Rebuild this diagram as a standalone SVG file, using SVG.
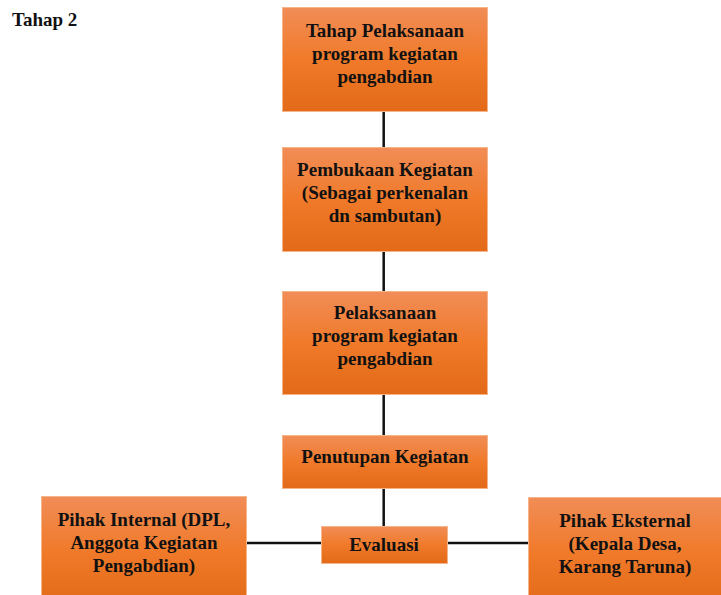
<svg xmlns="http://www.w3.org/2000/svg" width="721" height="595" viewBox="0 0 721 595">
<defs>
<linearGradient id="og" x1="0" y1="0" x2="0" y2="1">
<stop offset="0" stop-color="#F18D57"/>
<stop offset="0.5" stop-color="#F07A2A"/>
<stop offset="1" stop-color="#E26A18"/>
</linearGradient>
</defs>
<style>
.box{fill:url(#og);stroke:#F5B48A;stroke-width:1}
.c{stroke:#111;stroke-width:2.5;fill:none}
</style>
<rect width="721" height="595" fill="#fff"/>
<text x="12" y="26" font-family="Liberation Serif" font-weight="bold" font-size="19" fill="#111">Tahap 2</text>
<g id="connectors">
<line class="c" x1="383.7" y1="111" x2="383.7" y2="147"/>
<line class="c" x1="383.7" y1="252" x2="383.7" y2="291"/>
<line class="c" x1="383.7" y1="395" x2="383.7" y2="435"/>
<line class="c" x1="383.7" y1="488" x2="383.7" y2="526"/>
<line class="c" x1="246" y1="543" x2="321" y2="543"/>
<line class="c" x1="447" y1="543" x2="528" y2="543"/>
</g>
<g font-family="Liberation Serif" font-weight="bold" font-size="19" fill="#111" text-anchor="middle">
<g id="n1">
<rect class="box" x="282.5" y="7.5" width="205" height="104"/>
<text x="385" y="37">Tahap Pelaksanaan</text>
<text x="385" y="60">program kegiatan</text>
<text x="385" y="83">pengabdian</text>
</g>
<g id="n2">
<rect class="box" x="282.5" y="147.5" width="205" height="104"/>
<text x="385" y="176">Pembukaan Kegiatan</text>
<text x="385" y="199">(Sebagai perkenalan</text>
<text x="385" y="222">dn sambutan)</text>
</g>
<g id="n3">
<rect class="box" x="282.5" y="291.5" width="205" height="103"/>
<text x="385" y="319">Pelaksanaan</text>
<text x="385" y="342">program kegiatan</text>
<text x="385" y="365">pengabdian</text>
</g>
<g id="n4">
<rect class="box" x="282.5" y="435.5" width="205" height="53"/>
<text x="385" y="463">Penutupan Kegiatan</text>
</g>
<g id="n5">
<rect class="box" x="321.5" y="526.5" width="126" height="37"/>
<text x="384" y="551">Evaluasi</text>
</g>
<g id="n6">
<rect class="box" x="41.5" y="496.5" width="205" height="110"/>
<text x="144" y="526">Pihak Internal (DPL,</text>
<text x="144" y="549">Anggota Kegiatan</text>
<text x="144" y="572">Pengabdian)</text>
</g>
<g id="n7">
<rect class="box" x="528.5" y="497.5" width="205" height="110"/>
<text x="625" y="527">Pihak Eksternal</text>
<text x="625" y="550">(Kepala Desa,</text>
<text x="625" y="573">Karang Taruna)</text>
</g>
</g>
</svg>
